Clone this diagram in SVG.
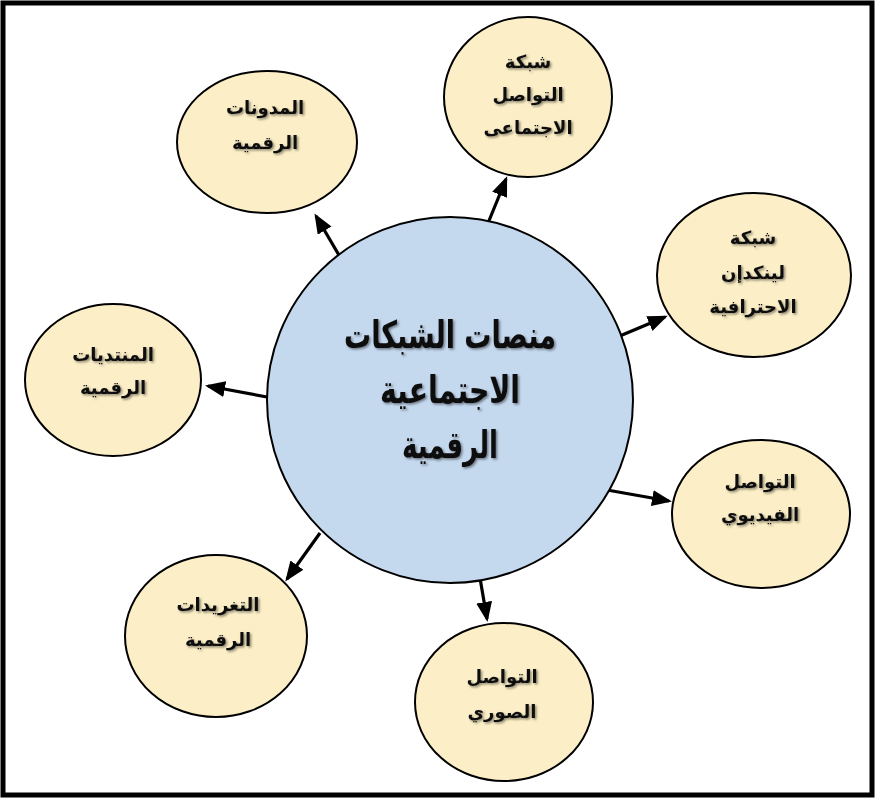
<svg xmlns="http://www.w3.org/2000/svg" width="877" height="802" viewBox="0 0 877 802">
<defs>
<style>
.sat{fill:#fcefc7;stroke:#000;stroke-width:2}
.hub{fill:#c4d8ee;stroke:#000;stroke-width:2}
.lbl{font-family:"DejaVu Sans","Noto Sans",sans-serif;font-weight:bold;font-size:18px;fill:#111;text-anchor:middle;filter:url(#sh)}
.big{font-family:"DejaVu Sans","Noto Sans",sans-serif;font-weight:bold;font-size:38px;fill:#111;text-anchor:middle;filter:url(#sh)}
.con line{stroke:#000;stroke-width:3.2;marker-end:url(#ah)}
</style>
<filter id="sh" x="-20%" y="-40%" width="140%" height="180%">
<feDropShadow dx="1.5" dy="1.5" stdDeviation="1.2" flood-color="#000" flood-opacity="0.45"/>
</filter>
<marker id="ah" markerUnits="userSpaceOnUse" markerWidth="22" markerHeight="18" refX="17" refY="8" orient="auto">
<path d="M0,0 L20,8 L0,16 z" fill="#000"/>
</marker>
</defs>
<rect x="3" y="3" width="869" height="792" fill="#fff" stroke="#000" stroke-width="5"/>
<g class="con" id="connectors">
<line x1="343" y1="262" x2="316" y2="216"/>
<line x1="484" y1="233" x2="506" y2="179"/>
<line x1="615" y1="338" x2="665" y2="317"/>
<line x1="267" y1="397" x2="208" y2="386"/>
<line x1="607" y1="490" x2="669" y2="501"/>
<line x1="320" y1="533" x2="287" y2="579"/>
<line x1="480" y1="578" x2="487" y2="619"/>
</g>
<g id="hub">
<circle class="hub" cx="450" cy="400" r="183"/>
<text class="big" x="450" y="348" direction="rtl" textLength="212" lengthAdjust="spacingAndGlyphs">منصات الشبكات</text>
<text class="big" x="450" y="403" direction="rtl" textLength="140" lengthAdjust="spacingAndGlyphs">الاجتماعية</text>
<text class="big" x="450" y="458" direction="rtl" textLength="96" lengthAdjust="spacingAndGlyphs">الرقمية</text>
</g>
<g id="n-blogs">
<ellipse class="sat" cx="267" cy="142" rx="90" ry="71"/>
<text class="lbl" x="265" y="114" direction="rtl">المدونات</text>
<text class="lbl" x="265" y="149" direction="rtl">الرقمية</text>
</g>
<g id="n-social">
<ellipse class="sat" cx="528" cy="97" rx="84" ry="80"/>
<text class="lbl" x="528" y="68" direction="rtl">شبكة</text>
<text class="lbl" x="528" y="101" direction="rtl">التواصل</text>
<text class="lbl" x="528" y="134" direction="rtl">الاجتماعى</text>
</g>
<g id="n-linkedin">
<ellipse class="sat" cx="754" cy="275" rx="97" ry="82"/>
<text class="lbl" x="753" y="244" direction="rtl">شبكة</text>
<text class="lbl" x="753" y="279" direction="rtl">لينكدإن</text>
<text class="lbl" x="753" y="313" direction="rtl">الاحترافية</text>
</g>
<g id="n-forums">
<ellipse class="sat" cx="113" cy="380" rx="88" ry="76"/>
<text class="lbl" x="113" y="361" direction="rtl">المنتديات</text>
<text class="lbl" x="113" y="394" direction="rtl">الرقمية</text>
</g>
<g id="n-video">
<ellipse class="sat" cx="761" cy="514" rx="89" ry="74"/>
<text class="lbl" x="760" y="488" direction="rtl">التواصل</text>
<text class="lbl" x="760" y="521" direction="rtl">الفيديوي</text>
</g>
<g id="n-tweets">
<ellipse class="sat" cx="216" cy="636" rx="91" ry="81"/>
<text class="lbl" x="218" y="611" direction="rtl">التغريدات</text>
<text class="lbl" x="218" y="646" direction="rtl">الرقمية</text>
</g>
<g id="n-photo">
<ellipse class="sat" cx="504" cy="702" rx="89" ry="79"/>
<text class="lbl" x="502" y="683" direction="rtl">التواصل</text>
<text class="lbl" x="502" y="718" direction="rtl">الصوري</text>
</g>
</svg>
